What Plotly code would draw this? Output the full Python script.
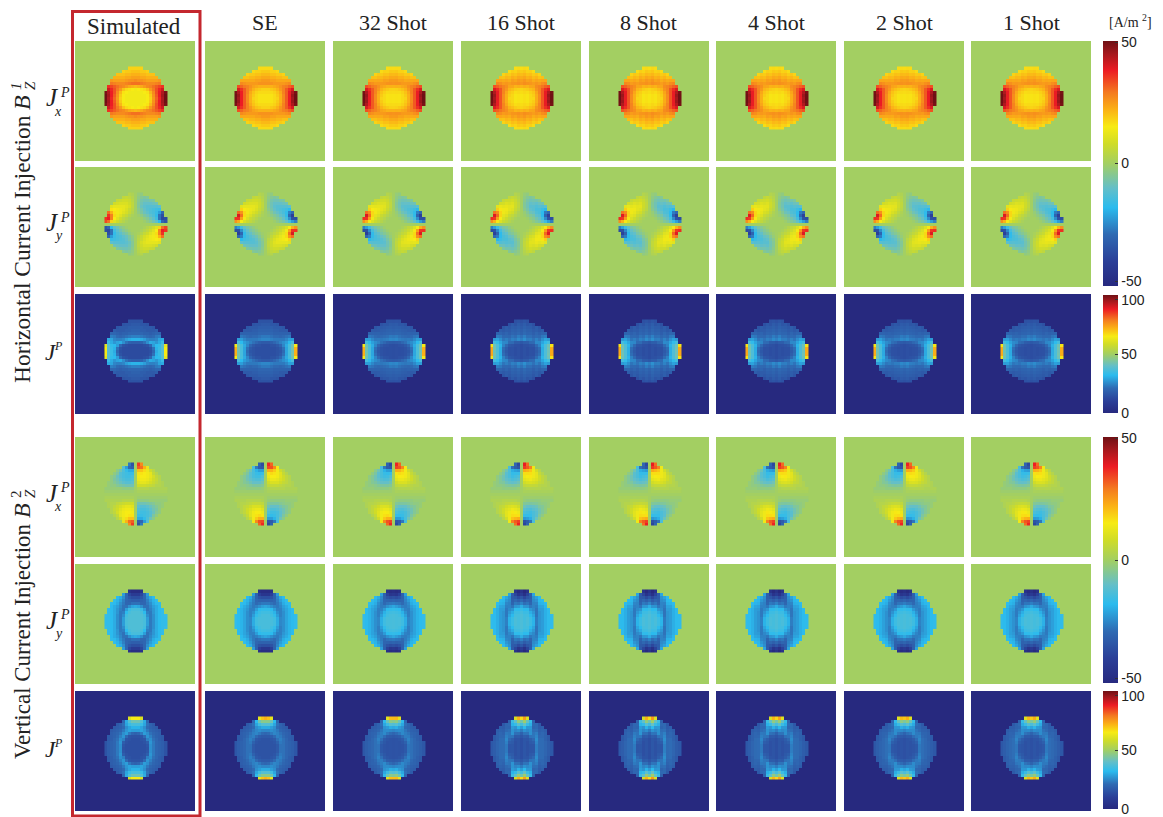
import numpy as np
import plotly.graph_objects as go

N = None
columns = ["Simulated", "SE", "32 Shot", "16 Shot", "8 Shot", "4 Shot", "2 Shot", "1 Shot"]
streak_amount = [0.0, 0.0, 0.12, 0.5, 0.55, 0.45, 0.25, 0.3]
row_streak = [0.3, 0.7, 0.7, 0.6, 0.8, 1.0]
streak = [0.05, -0.04, 0.08, 0.12, -0.07, 0.1, -0.12, 0.14, -0.1, 0.06, -0.14,
          0.13, -0.06, 0.1, -0.13, 0.16, -0.08, 0.12, 0.07, -0.05, 0.04]

# Quadrants: row 0 = centre row, row 10 = top; column 0 = centre column, column 10 = right edge.
h_jx_sim = [
    [14, 14, 14, 14, 15, 18, 25, 31, 37, 44, 50],
    [14, 14, 14, 14, 15, 19, 26, 32, 38, 45, 50],
    [14, 14, 14, 15, 16, 21, 27, 33, 38, 44, 49],
    [14, 15, 16, 17, 20, 25, 29, 33, 37, 41],
    [21, 22, 23, 25, 27, 28, 30, 32, 34, 36],
    [30, 30, 29, 28, 27, 27, 27, 28, 29],
    [27, 26, 26, 25, 24, 24, 24, 24, 25],
    [24, 24, 23, 23, 22, 22, 22, 22],
    [22, 22, 21, 21, 20, 20, 20],
    [20, 20, 19, 19, 18],
    [18, 18, 18]]
h_jx_se = [
    [16, 16, 16, 17, 18, 22, 27, 32, 38, 45, 50],
    [16, 16, 16, 17, 19, 22, 27, 32, 38, 46, 50],
    [17, 17, 17, 18, 20, 23, 28, 32, 38, 44, 49],
    [18, 18, 19, 20, 22, 25, 28, 32, 36, 40],
    [22, 22, 22, 23, 24, 26, 28, 29, 31, 33],
    [26, 26, 26, 25, 25, 25, 25, 26, 27],
    [25, 25, 24, 24, 23, 23, 23, 23, 23],
    [23, 23, 22, 22, 21, 21, 20, 20],
    [21, 21, 20, 20, 19, 19, 18],
    [19, 19, 18, 18, 17],
    [17, 17, 17]]
h_jy_sim = [
    [0, 0, 0, 0, 0, 0, 0, 0, 0, 0, 0],
    [0, 0, 0, -1, -3, -5, -8, -11, -18, -30, -34],
    [0, 0, -1, -3, -5, -8, -11, -15, -28, -38, -36],
    [0, -1, -3, -6, -8, -11, -13, -17, -28, -36],
    [0, -3, -6, -9, -11, -13, -14, -16, -22, -30],
    [0, -4, -7, -10, -12, -13, -14, -15, -16],
    [0, -5, -9, -11, -12, -12, -12, -12, -11],
    [0, -5, -8, -10, -10, -10, -9, -8],
    [0, -4, -7, -8, -8, -7, -6],
    [0, -3, -5, -6, -5],
    [0, -2, -3]]
h_jy_se = [
    [0, 0, 0, 0, 0, 0, 0, 0, 0, 0, 0],
    [0, 0, 0, -1, -3, -5, -7, -10, -15, -22, -26],
    [0, 0, -1, -3, -5, -7, -10, -14, -24, -36, -36],
    [0, -1, -3, -5, -7, -10, -12, -17, -30, -40],
    [0, -2, -5, -8, -10, -12, -14, -17, -26, -30],
    [0, -4, -7, -10, -12, -13, -14, -15, -18],
    [0, -5, -8, -11, -12, -12, -12, -12, -11],
    [0, -5, -8, -10, -10, -10, -9, -8],
    [0, -4, -7, -8, -8, -7, -6],
    [0, -3, -5, -6, -5],
    [0, -2, -3]]
h_j_sim = [
    [13, 13, 13, 13, 13, 14, 20, 30, 34, 38, 65],
    [13, 13, 13, 13, 13, 15, 22, 31, 34, 38, 65],
    [13, 13, 13, 14, 15, 20, 28, 32, 33, 38, 62],
    [18, 18, 19, 22, 26, 30, 29, 27, 30, 34],
    [31, 31, 30, 28, 25, 24, 24, 25, 29, 30],
    [24, 24, 23, 22, 21, 20, 21, 23, 24],
    [20, 20, 20, 19, 19, 18, 19, 20, 20],
    [19, 19, 18, 18, 17, 17, 17, 18],
    [18, 18, 18, 17, 17, 17, 16],
    [17, 17, 16, 16, 15],
    [15, 15, 15]]
h_j_se = [
    [14, 14, 14, 14, 15, 16, 21, 29, 36, 42, 72],
    [14, 14, 14, 14, 15, 17, 22, 29, 36, 43, 72],
    [14, 14, 15, 15, 17, 20, 25, 30, 36, 42, 65],
    [17, 17, 18, 20, 22, 24, 26, 28, 32, 36],
    [25, 25, 24, 23, 23, 23, 23, 25, 28, 28],
    [23, 23, 22, 21, 21, 20, 21, 22, 23],
    [20, 20, 20, 19, 19, 19, 19, 19, 19],
    [19, 19, 19, 18, 18, 17, 17, 17],
    [18, 18, 18, 17, 17, 17, 16],
    [17, 17, 16, 16, 15],
    [15, 15, 15]]
v_jx_sim = [
    [0, 0, 0, 0, 0, 0, 0, 0, 0, 0, 0],
    [0, 1, 1, 1, 1, 1, 1, 1, 1, 1, 1],
    [0, 3, 3, 3, 3, 2, 2, 2, 2, 2, 2],
    [0, 8, 8, 8, 7, 6, 5, 3, 3, 2],
    [0, 11, 12, 12, 11, 9, 7, 5, 3, 2],
    [0, 13, 14, 14, 13, 11, 8, 6, 3],
    [0, 14, 15, 15, 14, 12, 9, 5, 3],
    [0, 16, 16, 15, 14, 12, 6, 3],
    [0, 20, 20, 17, 13, 8, 4],
    [0, 32, 30, 22, 12],
    [0, 35, 27]]
v_jx_se = [
    [0, 0, 0, 0, 0, 0, 0, 0, 0, 0, 0],
    [0, 1, 1, 1, 1, 1, 1, 1, 1, 1, 1],
    [0, 2, 3, 3, 3, 3, 3, 2, 2, 2, 2],
    [0, 5, 6, 6, 6, 5, 4, 3, 3, 2],
    [0, 8, 10, 10, 10, 8, 6, 5, 3, 2],
    [0, 11, 13, 13, 12, 10, 8, 5, 3],
    [0, 13, 15, 15, 14, 11, 8, 5, 3],
    [0, 16, 17, 16, 14, 11, 6, 3],
    [0, 22, 22, 19, 14, 8, 4],
    [0, 34, 33, 27, 14],
    [0, 37, 31]]
v_jy_sim = [
    [-13, -13, -13, -14, -22, -27, -24, -20, -18, -17, -17],
    [-13, -13, -13, -14, -22, -27, -24, -20, -18, -17, -17],
    [-13, -13, -13, -15, -24, -27, -24, -20, -18, -17, -16],
    [-13, -13, -14, -18, -26, -27, -23, -20, -18, -17],
    [-14, -14, -16, -22, -28, -26, -23, -20, -18, -17],
    [-20, -21, -24, -28, -28, -25, -22, -20, -18],
    [-28, -28, -30, -30, -27, -24, -20, -18, -17],
    [-32, -32, -31, -30, -26, -22, -19, -17],
    [-36, -36, -34, -30, -24, -20, -18],
    [-42, -42, -38, -30, -22],
    [-48, -48, -46]]
v_jy_se = [
    [-14, -14, -14, -15, -20, -25, -24, -21, -19, -18, -17],
    [-14, -14, -14, -15, -20, -25, -24, -21, -19, -18, -17],
    [-14, -14, -15, -17, -22, -26, -24, -21, -19, -18, -17],
    [-15, -15, -16, -19, -24, -26, -24, -21, -19, -18],
    [-17, -17, -18, -22, -26, -26, -23, -21, -19, -18],
    [-21, -22, -24, -26, -27, -25, -22, -20, -18],
    [-27, -27, -28, -29, -27, -24, -20, -18, -17],
    [-31, -31, -31, -30, -26, -22, -19, -17],
    [-36, -36, -35, -31, -25, -20, -18],
    [-44, -44, -40, -31, -22],
    [-48, -48, -47]]
v_j_sim = [
    [14, 14, 14, 14, 15, 26, 23, 20, 19, 18, 15],
    [14, 14, 14, 14, 16, 26, 23, 20, 19, 18, 15],
    [14, 14, 14, 15, 18, 27, 23, 20, 19, 18, 15],
    [14, 14, 15, 16, 24, 26, 22, 20, 18, 17],
    [15, 15, 16, 21, 27, 24, 21, 19, 18, 17],
    [19, 20, 23, 28, 26, 22, 20, 19, 18],
    [28, 28, 29, 27, 23, 20, 19, 18, 17],
    [31, 31, 29, 26, 21, 19, 18, 17],
    [36, 36, 34, 29, 22, 19, 17],
    [42, 42, 38, 30, 20],
    [65, 65, 60]]
v_j_se = [
    [15, 15, 15, 15, 17, 22, 22, 20, 19, 18, 16],
    [15, 15, 15, 15, 17, 22, 22, 20, 19, 18, 16],
    [15, 15, 15, 16, 19, 23, 22, 20, 19, 18, 16],
    [15, 15, 16, 17, 22, 24, 22, 20, 18, 17],
    [17, 17, 18, 21, 24, 23, 21, 19, 18, 17],
    [20, 21, 23, 25, 24, 22, 20, 19, 18],
    [25, 25, 26, 25, 23, 20, 19, 18, 17],
    [30, 30, 28, 26, 21, 19, 18, 17],
    [38, 38, 35, 29, 22, 19, 17],
    [46, 46, 42, 32, 20],
    [72, 70, 62]]

colorscale = [
    [0.00, "#27297f"], [0.10, "#2b3f98"], [0.21, "#2f6ab3"], [0.32, "#2bbbee"],
    [0.40, "#64bfc8"], [0.50, "#a3cf62"], [0.58, "#cfdc28"], [0.65, "#f7eb14"],
    [0.72, "#fbb116"], [0.79, "#f47a20"], [0.88, "#ec1c24"], [0.95, "#a3181d"], [1.00, "#6f1014"]]

panel_left = [75, 205, 333, 461, 589, 716, 844, 971]
panel_top = [41, 167, 294, 437, 564, 691]
panel_size = 120
W, H = 1163, 817

rows = [
    (h_jx_sim, h_jx_se, 1, 1, -50, 50, "#a3cf62"),
    (h_jy_sim, h_jy_se, -1, -1, -50, 50, "#a3cf62"),
    (h_j_sim, h_j_se, 1, 1, 0, 100, "#27297f"),
    (v_jx_sim, v_jx_se, -1, -1, -50, 50, "#a3cf62"),
    (v_jy_sim, v_jy_se, 1, 1, -50, 50, "#a3cf62"),
    (v_j_sim, v_j_se, 1, 1, 0, 100, "#27297f"),
]
colorbars = {
    0: (41, 245, [-48, 0, 49.5], ["-50", "0", "50"]),
    2: (295, 118, [0, 50, 96], ["0", "50", "100"]),
    3: (437, 246, [-48, 0, 49.5], ["-50", "0", "50"]),
    5: (691, 118, [0, 50, 96], ["0", "50", "100"]),
}


def build(quadrant, sx, sy):
    q = np.array([r + [N] * (11 - len(r)) for r in quadrant], dtype=float)
    top = np.hstack([sx * np.fliplr(q[:, 1:]), q])
    return np.vstack([sy * np.flipud(top[1:]), top])


cells = list(range(-10, 11))
fig = go.Figure()
layout = {"shapes": []}
n = 0
for ri, (qsim, qse, sx, sy, zmin, zmax, bg) in enumerate(rows):
    for ci, name in enumerate(columns):
        n += 1
        z = build(qsim if ci == 0 else qse, sx, sy)
        z = z * (1 + streak_amount[ci] * row_streak[ri] * np.array(streak))
        trace = dict(z=z, x=cells, y=cells, zmin=zmin, zmax=zmax, colorscale=colorscale,
                     xaxis=f"x{n}", yaxis=f"y{n}", showscale=False, hoverinfo="skip")
        if ci == 0 and ri in colorbars:
            top, length, vals, labels = colorbars[ri]
            trace["showscale"] = True
            trace["colorbar"] = dict(
                x=1103 / W, xanchor="left", xpad=0, y=1 - top / H, yanchor="top", ypad=0,
                thickness=15, thicknessmode="pixels", len=length, lenmode="pixels",
                tickvals=vals, ticktext=labels, ticks="inside", ticklen=3, tickcolor="#333",
                outlinewidth=0, tickfont=dict(family="Liberation Sans", size=14, color="#222"))
        fig.add_trace(go.Heatmap(**trace))
        L, T = panel_left[ci], panel_top[ri]
        ax = dict(visible=False, fixedrange=True, showgrid=False, zeroline=False)
        layout[f"xaxis{n}"] = dict(ax, domain=[L / W, (L + panel_size) / W], range=[-20.33, 19.67], anchor=f"y{n}")
        layout[f"yaxis{n}"] = dict(ax, domain=[1 - (T + panel_size) / H, 1 - T / H], range=[-21, 19], anchor=f"x{n}")
        layout["shapes"].append(dict(
            type="rect", xref="paper", yref="paper", x0=L / W, x1=(L + panel_size) / W,
            y0=1 - (T + panel_size) / H, y1=1 - T / H, fillcolor=bg, line_width=0, layer="below"))

layout["shapes"].append(dict(type="rect", xref="paper", yref="paper", x0=72.5 / W, x1=200 / W,
                             y0=1 - 816 / H, y1=1 - 11.5 / H, line=dict(color="#c4272e", width=3)))


def note(text, x, y, size, family="Liberation Serif", angle=0, color="#222"):
    return dict(text=text, x=x / W, y=1 - y / H, xref="paper", yref="paper", showarrow=False,
                xanchor="center", yanchor="middle", textangle=angle,
                font=dict(family=family, size=size, color=color))


notes = []
title_x = [134, 265, 393, 521, 649, 776, 904, 1031]
for t, x in zip(columns, title_x):
    if t == "Simulated":
        notes.append(note(t, x, 27, 23))
    else:
        notes.append(note(t, x, 23, 22))
notes.append(note("[A/m <sup>2</sup>]", 1130, 21, 14))
for y, sub in [(98, "x"), (223, "y"), (493, "x"), (620, "y")]:
    notes.append(note("<i>J</i>", 52, y, 25))
    notes.append(note(f"<i>{sub}</i>", 58, y + 13, 14))
    notes.append(note("<i>P</i>", 65, y - 6, 14))
for y in [352, 749]:
    notes.append(note("<i>J</i>", 51, y, 23))
    notes.append(note("<i>P</i>", 58, y - 6, 12))
notes.append(note("Horizontal Current Injection", 22, 249, 23.5, angle=-90))
notes.append(note("<i>B</i>", 22, 103, 24, angle=-90))
notes.append(note("<i>Z</i>", 30, 86, 15, angle=-90))
notes.append(note("<i>1</i>", 16, 86, 15, angle=-90))
notes.append(note("Vertical Current Injection", 22, 641, 23, angle=-90))
notes.append(note("<i>B</i>", 22, 511, 24, angle=-90))
notes.append(note("<i>Z</i>", 30, 494, 15, angle=-90))
notes.append(note("2", 16, 494, 15, angle=-90))

fig.update_layout(width=W, height=H, margin=dict(l=0, r=0, t=0, b=0), paper_bgcolor="white",
                  plot_bgcolor="rgba(0,0,0,0)", annotations=notes, **layout)
fig.write_html("out.html", config={"displayModeBar": False},
               post_script="document.body.style.margin='0';")
